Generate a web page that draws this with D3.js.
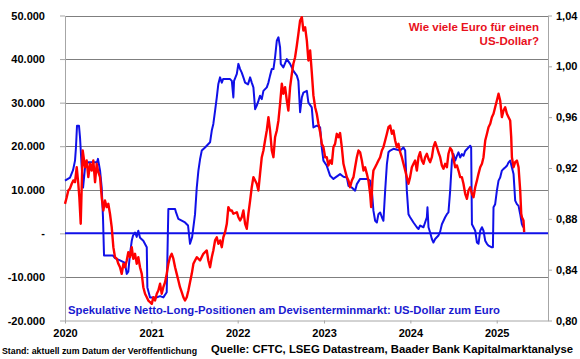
<!DOCTYPE html>
<html>
<head>
<meta charset="utf-8">
<script src="https://cdn.jsdelivr.net/npm/d3@7"></script>
<style>
  body { margin: 0; background: #fff; }
  text { font-family: "Liberation Sans", Arial, sans-serif; font-weight: bold; }
</style>
</head>
<body>
<svg id="chart" width="580" height="359"></svg>
<script>
// axis ticks
const years = [2020, 2021, 2022, 2023, 2024, 2025];
const leftTicks = [-20000, -10000, 0, 10000, 20000, 30000, 40000, 50000];
const rightTicks = [0.80, 0.84, 0.88, 0.92, 0.96, 1.00, 1.04];

// CFTC speculative net long positions (contracts), [year, value]
const netLong = [
  [2020.000, 12100], [2020.058, 12800], [2020.093, 14500], [2020.116, 16700], [2020.127, 19700],
  [2020.139, 24700], [2020.162, 24700], [2020.174, 22000], [2020.194, 15100], [2020.209, 10500],
  [2020.232, 15100], [2020.267, 16300], [2020.371, 16300], [2020.382, 17100], [2020.406, 14400],
  [2020.425, 10500], [2020.440, 3700], [2020.452, -5100], [2020.556, -5100], [2020.579, -5700],
  [2020.637, -6200], [2020.695, -6800], [2020.715, -9300], [2020.733, -8800], [2020.753, -4700],
  [2020.773, -1700], [2020.788, -500], [2020.811, 200], [2020.831, -800], [2020.849, 600],
  [2020.869, -1000], [2020.907, -1700], [2020.947, -3200], [2020.954, -12400], [2020.985, -14700],
  [2021.063, -14700], [2021.101, -14400], [2021.139, -14700], [2021.178, -13500], [2021.197, 5600],
  [2021.275, 5600], [2021.286, 4800], [2021.313, 3300], [2021.352, 2900], [2021.390, 2500],
  [2021.425, 1800], [2021.448, -2400], [2021.472, -900], [2021.506, 4400], [2021.526, 10500],
  [2021.545, 14400], [2021.564, 17000], [2021.584, 19000], [2021.622, 19700], [2021.680, 20900],
  [2021.700, 23600], [2021.718, 25100], [2021.738, 28100], [2021.758, 31200], [2021.776, 34300],
  [2021.796, 35800], [2021.816, 34600], [2021.831, 35400], [2021.912, 35400], [2021.932, 35000],
  [2021.950, 31200], [2021.958, 35000], [2021.990, 36600], [2022.008, 38900], [2022.028, 37700],
  [2022.047, 36900], [2022.066, 35800], [2022.086, 34600], [2022.120, 34200], [2022.144, 35800],
  [2022.163, 34600], [2022.182, 33500], [2022.202, 28500], [2022.221, 29300], [2022.240, 30400],
  [2022.259, 31600], [2022.279, 30800], [2022.298, 32700], [2022.337, 33500], [2022.356, 34600],
  [2022.375, 36200], [2022.395, 37700], [2022.414, 37700], [2022.433, 40400], [2022.453, 44200],
  [2022.472, 45000], [2022.491, 42700], [2022.499, 38900], [2022.529, 38100], [2022.569, 40000],
  [2022.607, 38900], [2022.645, 37300], [2022.685, 36200], [2022.703, 35000], [2022.723, 27800],
  [2022.743, 31200], [2022.761, 32300], [2022.801, 32700], [2022.819, 30000], [2022.858, 28900],
  [2022.877, 24300], [2022.916, 24700], [2022.955, 24300], [2022.974, 19700], [2022.993, 16700],
  [2023.032, 15500], [2023.071, 13200], [2023.109, 12500], [2023.186, 13600], [2023.225, 13000],
  [2023.264, 12800], [2023.283, 10900], [2023.322, 10500], [2023.360, 9800], [2023.380, 11300],
  [2023.418, 12500], [2023.496, 12500], [2023.534, 12100], [2023.554, 9800], [2023.572, 5200],
  [2023.592, 2900], [2023.612, 2500], [2023.630, 4400], [2023.650, 4800], [2023.670, 3700],
  [2023.688, 2900], [2023.708, 9800], [2023.728, 15900], [2023.746, 18600], [2023.766, 19000],
  [2023.804, 19400], [2023.882, 19000], [2023.920, 19700], [2023.940, 19000], [2023.959, 9800],
  [2023.978, 4400], [2023.997, 3700], [2024.036, 2500], [2024.075, 1400], [2024.094, 1000],
  [2024.113, 1800], [2024.152, 1400], [2024.191, 3700], [2024.198, 6000], [2024.210, 1400],
  [2024.229, 200], [2024.249, -1300], [2024.267, -2100], [2024.287, -1300], [2024.325, -500],
  [2024.345, 400], [2024.365, 2100], [2024.403, 3700], [2024.423, 4400], [2024.441, 4800],
  [2024.461, 9800], [2024.481, 16700], [2024.499, 18200], [2024.519, 16700], [2024.539, 17800],
  [2024.557, 18600], [2024.577, 17400], [2024.597, 18200], [2024.615, 17800], [2024.635, 18900],
  [2024.673, 19700], [2024.693, 20100], [2024.704, 19700], [2024.713, 2100], [2024.731, 1400],
  [2024.751, 600], [2024.771, -2100], [2024.789, -2400], [2024.809, 600], [2024.829, 1400],
  [2024.847, 600], [2024.867, -1700], [2024.887, -2400], [2024.905, -2800], [2024.944, -3200],
  [2024.956, -3200], [2024.963, 6000], [2024.982, 6700], [2025.002, 9800], [2025.021, 12100],
  [2025.040, 12800], [2025.060, 14400], [2025.079, 14800], [2025.098, 15100], [2025.118, 15500],
  [2025.137, 16300], [2025.156, 16700], [2025.176, 15100], [2025.195, 13600], [2025.214, 7500],
  [2025.234, 6700], [2025.253, 6300], [2025.272, 4400], [2025.292, 2100], [2025.307, 1400]
];

// euro per US dollar, [year, rate]
const eurPerUsd = [
  [2020.000, 0.8918], [2020.020, 0.8970], [2020.038, 0.9023], [2020.058, 0.9039], [2020.078, 0.9076],
  [2020.096, 0.9102], [2020.116, 0.9088], [2020.136, 0.9206], [2020.154, 0.9076], [2020.166, 0.8970],
  [2020.182, 0.8761], [2020.205, 0.9338], [2020.232, 0.9206], [2020.251, 0.9259], [2020.270, 0.9128],
  [2020.290, 0.9233], [2020.309, 0.9180], [2020.328, 0.9259], [2020.348, 0.9088], [2020.367, 0.9233],
  [2020.386, 0.9167], [2020.406, 0.9128], [2020.425, 0.8970], [2020.444, 0.8866], [2020.463, 0.8944],
  [2020.483, 0.8892], [2020.502, 0.8918], [2020.521, 0.8840], [2020.541, 0.8734], [2020.560, 0.8577],
  [2020.579, 0.8498], [2020.599, 0.8486], [2020.618, 0.8446], [2020.637, 0.8419], [2020.657, 0.8367],
  [2020.676, 0.8446], [2020.695, 0.8419], [2020.715, 0.8472], [2020.733, 0.8537], [2020.753, 0.8498],
  [2020.773, 0.8577], [2020.791, 0.8486], [2020.811, 0.8525], [2020.831, 0.8446], [2020.849, 0.8498],
  [2020.869, 0.8419], [2020.889, 0.8367], [2020.907, 0.8262], [2020.927, 0.8210], [2020.947, 0.8183],
  [2020.965, 0.8157], [2020.985, 0.8144], [2021.005, 0.8131], [2021.023, 0.8183], [2021.043, 0.8157],
  [2021.063, 0.8210], [2021.081, 0.8236], [2021.101, 0.8289], [2021.120, 0.8210], [2021.139, 0.8262],
  [2021.159, 0.8301], [2021.178, 0.8367], [2021.197, 0.8446], [2021.216, 0.8498], [2021.236, 0.8525],
  [2021.255, 0.8486], [2021.275, 0.8419], [2021.294, 0.8367], [2021.313, 0.8315], [2021.332, 0.8262],
  [2021.352, 0.8223], [2021.371, 0.8183], [2021.390, 0.8157], [2021.410, 0.8183], [2021.429, 0.8236],
  [2021.448, 0.8301], [2021.468, 0.8367], [2021.487, 0.8446], [2021.506, 0.8472], [2021.526, 0.8498],
  [2021.564, 0.8472], [2021.602, 0.8525], [2021.642, 0.8551], [2021.660, 0.8472], [2021.680, 0.8419],
  [2021.700, 0.8498], [2021.718, 0.8551], [2021.738, 0.8630], [2021.758, 0.8655], [2021.776, 0.8604],
  [2021.796, 0.8630], [2021.816, 0.8577], [2021.834, 0.8655], [2021.854, 0.8695], [2021.874, 0.8761],
  [2021.892, 0.8892], [2021.912, 0.8866], [2021.932, 0.8866], [2021.950, 0.8840], [2021.990, 0.8852],
  [2022.008, 0.8813], [2022.028, 0.8787], [2022.047, 0.8813], [2022.066, 0.8866], [2022.086, 0.8761],
  [2022.105, 0.8722], [2022.124, 0.8840], [2022.144, 0.8944], [2022.163, 0.9049], [2022.182, 0.9128],
  [2022.202, 0.9102], [2022.221, 0.9076], [2022.240, 0.9023], [2022.259, 0.9154], [2022.279, 0.9285],
  [2022.298, 0.9338], [2022.317, 0.9416], [2022.337, 0.9495], [2022.356, 0.9600], [2022.375, 0.9495],
  [2022.395, 0.9338], [2022.414, 0.9285], [2022.433, 0.9442], [2022.453, 0.9495], [2022.472, 0.9574],
  [2022.491, 0.9705], [2022.511, 0.9863], [2022.529, 0.9784], [2022.549, 0.9836], [2022.569, 0.9731],
  [2022.587, 0.9652], [2022.607, 0.9836], [2022.627, 0.9941], [2022.645, 1.0020], [2022.665, 1.0072],
  [2022.685, 1.0164], [2022.703, 1.0256], [2022.723, 1.0361], [2022.743, 1.0387], [2022.761, 1.0282],
  [2022.781, 1.0308], [2022.801, 1.0203], [2022.819, 1.0046], [2022.839, 1.0125], [2022.858, 0.9954],
  [2022.877, 0.9771], [2022.897, 0.9678], [2022.916, 0.9627], [2022.935, 0.9548], [2022.955, 0.9482],
  [2022.974, 0.9390], [2022.993, 0.9364], [2023.013, 0.9285], [2023.032, 0.9285], [2023.051, 0.9220],
  [2023.071, 0.9259], [2023.090, 0.9233], [2023.109, 0.9364], [2023.128, 0.9390], [2023.148, 0.9469],
  [2023.167, 0.9442], [2023.186, 0.9475], [2023.206, 0.9364], [2023.225, 0.9233], [2023.244, 0.9180],
  [2023.264, 0.9128], [2023.283, 0.9102], [2023.302, 0.9049], [2023.322, 0.9102], [2023.341, 0.9128],
  [2023.360, 0.9206], [2023.380, 0.9285], [2023.399, 0.9338], [2023.418, 0.9324], [2023.438, 0.9259],
  [2023.457, 0.9180], [2023.476, 0.9206], [2023.496, 0.9154], [2023.514, 0.9102], [2023.534, 0.8997],
  [2023.546, 0.8892], [2023.561, 0.9102], [2023.572, 0.9180], [2023.592, 0.9206], [2023.612, 0.9233],
  [2023.630, 0.9259], [2023.650, 0.9285], [2023.670, 0.9338], [2023.688, 0.9364], [2023.708, 0.9416],
  [2023.728, 0.9469], [2023.746, 0.9521], [2023.766, 0.9534], [2023.786, 0.9469], [2023.804, 0.9495],
  [2023.824, 0.9416], [2023.843, 0.9364], [2023.862, 0.9390], [2023.882, 0.9324], [2023.901, 0.9285],
  [2023.920, 0.9233], [2023.940, 0.9180], [2023.959, 0.9128], [2023.978, 0.9076], [2023.997, 0.9128],
  [2024.017, 0.9206], [2024.036, 0.9233], [2024.055, 0.9259], [2024.075, 0.9180], [2024.094, 0.9285],
  [2024.113, 0.9324], [2024.133, 0.9259], [2024.152, 0.9233], [2024.171, 0.9285], [2024.191, 0.9312],
  [2024.210, 0.9272], [2024.229, 0.9246], [2024.249, 0.9285], [2024.267, 0.9364], [2024.287, 0.9403],
  [2024.307, 0.9364], [2024.325, 0.9324], [2024.345, 0.9285], [2024.365, 0.9220], [2024.383, 0.9194],
  [2024.403, 0.9233], [2024.423, 0.9206], [2024.441, 0.9312], [2024.461, 0.9357], [2024.481, 0.9338],
  [2024.499, 0.9275], [2024.519, 0.9206], [2024.539, 0.9220], [2024.557, 0.9180], [2024.577, 0.9128],
  [2024.597, 0.9128], [2024.615, 0.9076], [2024.635, 0.8997], [2024.655, 0.8958], [2024.673, 0.9023],
  [2024.693, 0.9049], [2024.713, 0.8997], [2024.731, 0.8970], [2024.751, 0.9049], [2024.771, 0.9102],
  [2024.789, 0.9154], [2024.809, 0.9206], [2024.829, 0.9233], [2024.847, 0.9285], [2024.867, 0.9416],
  [2024.887, 0.9469], [2024.905, 0.9521], [2024.925, 0.9548], [2024.944, 0.9600], [2024.963, 0.9627],
  [2024.982, 0.9678], [2025.002, 0.9731], [2025.021, 0.9784], [2025.040, 0.9731], [2025.060, 0.9600],
  [2025.079, 0.9652], [2025.098, 0.9678], [2025.118, 0.9627], [2025.137, 0.9600], [2025.156, 0.9574],
  [2025.168, 0.9442], [2025.176, 0.9285], [2025.195, 0.9206], [2025.214, 0.9246], [2025.234, 0.9259],
  [2025.253, 0.9206], [2025.272, 0.9023], [2025.284, 0.8840], [2025.292, 0.8813], [2025.310, 0.8787],
  [2025.318, 0.8695]
];

let margin = { top: 15.5, right: 32, bottom: 38.5, left: 65 };
let w = 580, h = 359;

let svg = d3.select("#chart");

// german number style: 10.000 and 0,96
const de = d3.formatLocale({ decimal: ",", thousands: ".", grouping: [3], currency: ["", " €"], minus: "-" });

let xScale = d3.scaleLinear()
    .domain([2020, 2025.594])
    .range([margin.left, w - margin.right]);

let yLeft = d3.scaleLinear()
    .domain([-20000, 50000])
    .range([h - margin.bottom, margin.top]);

let yRight = d3.scaleLinear()
    .domain([0.80, 1.04])
    .range([h - margin.bottom, margin.top]);

// gridlines on the left scale
svg.append("g")
    .selectAll("line")
    .data(leftTicks.filter(d => d > -20000 && d !== 0))
    .enter()
    .append("line")
    .attr("x1", margin.left)
    .attr("x2", w - margin.right)
    .attr("y1", d => Math.round(yLeft(d)) + 0.5)
    .attr("y2", d => Math.round(yLeft(d)) + 0.5)
    .attr("stroke", "#7f7f7f")
    .attr("stroke-width", 1);

let axisColor = "#a6a6a6";

let xAxis = d3.axisBottom(xScale)
    .tickValues(years)
    .tickFormat(d3.format("d"))
    .tickSize(3)
    .tickSizeOuter(0)
    .tickPadding(6);

svg.append("g")
    .attr("class", "x axis")
    .attr("transform", "translate(0," + (h - margin.bottom) + ")")
    .call(xAxis);

let yAxisLeft = d3.axisLeft(yLeft)
    .tickValues(leftTicks)
    .tickFormat(d => d === 0 ? "-" : de.format(",d")(d))
    .tickSize(5)
    .tickSizeOuter(0)
    .tickPadding(15);

svg.append("g")
    .attr("class", "y axis")
    .attr("transform", "translate(" + margin.left + ",0)")
    .call(yAxisLeft);

let yAxisRight = d3.axisRight(yRight)
    .tickValues(rightTicks)
    .tickFormat(de.format(".2f"))
    .tickSize(4)
    .tickSizeOuter(0)
    .tickPadding(4);

svg.append("g")
    .attr("class", "y axis")
    .attr("transform", "translate(" + (w - margin.right) + ",0)")
    .call(yAxisRight);

svg.selectAll(".axis path, .axis line").attr("stroke", axisColor);
svg.selectAll(".axis text")
    .attr("fill", "#000")
    .style("font-size", "11px")
    .style("font-family", "'Liberation Sans', Arial, sans-serif")
    .style("font-weight", "bold");

// zero line in blue
svg.append("line")
    .attr("x1", margin.left)
    .attr("x2", w - margin.right)
    .attr("y1", yLeft(0))
    .attr("y2", yLeft(0))
    .attr("stroke", "#1010e8")
    .attr("stroke-width", 2);

let blueLine = d3.line()
    .x(d => xScale(d[0]))
    .y(d => yLeft(d[1]));

let redLine = d3.line()
    .x(d => xScale(d[0]))
    .y(d => yRight(d[1]));

svg.append("path")
    .datum(netLong)
    .attr("d", blueLine)
    .attr("fill", "none")
    .attr("stroke", "#1010e8")
    .attr("stroke-width", 2)
    .attr("stroke-linejoin", "round");

svg.append("path")
    .datum(eurPerUsd)
    .attr("d", redLine)
    .attr("fill", "none")
    .attr("stroke", "#ff0000")
    .attr("stroke-width", 2.4)
    .attr("stroke-linejoin", "round");

// labels
svg.append("text")
    .attr("x", 539)
    .attr("y", 31)
    .attr("text-anchor", "end")
    .attr("fill", "#e8101c")
    .style("font-size", "11.5px")
    .text("Wie viele Euro für einen");

svg.append("text")
    .attr("x", 539)
    .attr("y", 44.5)
    .attr("text-anchor", "end")
    .attr("fill", "#e8101c")
    .style("font-size", "11.5px")
    .text("US-Dollar?");

svg.append("text")
    .attr("x", 68)
    .attr("y", 314)
    .attr("fill", "#1a1ad0")
    .style("font-size", "11.5px")
    .attr("textLength", 432)
    .attr("lengthAdjust", "spacingAndGlyphs")
    .text("Spekulative Netto-Long-Positionen am Devisenterminmarkt: US-Dollar zum Euro");

svg.append("text")
    .attr("x", 2)
    .attr("y", 354)
    .attr("fill", "#000")
    .style("font-size", "9px")
    .attr("textLength", 195)
    .attr("lengthAdjust", "spacingAndGlyphs")
    .text("Stand: aktuell zum Datum der Veröffentlichung");

svg.append("text")
    .attr("x", 211)
    .attr("y", 352.5)
    .attr("fill", "#000")
    .style("font-size", "11px")
    .attr("textLength", 362)
    .attr("lengthAdjust", "spacingAndGlyphs")
    .text("Quelle: CFTC, LSEG Datastream, Baader Bank Kapitalmarktanalyse");
</script>
</body>
</html>
